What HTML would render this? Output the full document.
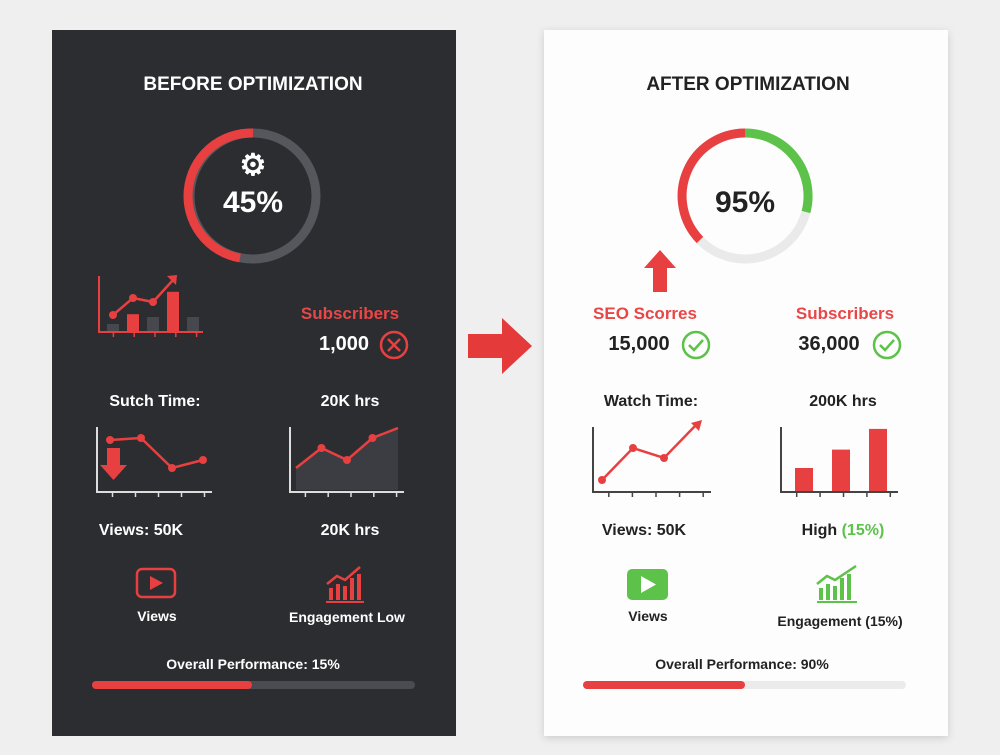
<!DOCTYPE html>
<html><head><meta charset="utf-8"><style>
body{margin:0;width:1000px;height:750px;background:#efefef;overflow:hidden;font-family:"Liberation Sans",sans-serif}
svg text{font-family:"Liberation Sans",sans-serif;font-weight:bold}
</style></head><body>
<svg id="s" width="1000" height="750" viewBox="0 0 1000 750">
<defs><filter id="sh" x="-10%" y="-10%" width="120%" height="120%"><feDropShadow dx="0" dy="2" stdDeviation="4" flood-opacity="0.15"/></filter></defs>
<rect x="52" y="30" width="404" height="706" fill="#2b2d31"/>
<rect x="544" y="30" width="404" height="706" fill="#fdfdfd" filter="url(#sh)"/>
<text x="253" y="90" font-size="19" fill="#fff" text-anchor="middle">BEFORE OPTIMIZATION</text>
<text x="748" y="90" font-size="19" fill="#222" text-anchor="middle">AFTER OPTIMIZATION</text>
<g>
<circle cx="253" cy="196" r="63" fill="none" stroke="#55575c" stroke-width="9"/>
<path d="M253 133 A63 63 0 0 0 240 258" fill="none" stroke="#e84040" stroke-width="9"/>
<text x="253" y="175" font-size="30" fill="#fff" text-anchor="middle">⚙</text>
<text x="253" y="212" font-size="30" fill="#fff" text-anchor="middle">45%</text>
</g>
<g>
<circle cx="745" cy="196" r="63" fill="none" stroke="#eaeaea" stroke-width="9"/>
<path d="M700 240 A63 63 0 0 1 745 133" fill="none" stroke="#e84040" stroke-width="9"/>
<path d="M745 133 A63 63 0 0 1 806 212" fill="none" stroke="#5cc24a" stroke-width="9"/>
<text x="745" y="212" font-size="30" fill="#222" text-anchor="middle">95%</text>
</g>
<path d="M660 250 L676 268 L667 268 L667 292 L653 292 L653 268 L644 268 Z" fill="#e84040"/>
<path d="M468 334 L502 334 L502 318 L532 346 L502 374 L502 358 L468 358 Z" fill="#e53a3a"/>
<g id="charts"></g>
<text x="350" y="319" font-size="17" fill="#e84747" text-anchor="middle">Subscribers</text>
<text x="344" y="350" font-size="20" fill="#fff" text-anchor="middle">1,000</text>
<g><circle cx="394" cy="345" r="13" fill="none" stroke="#e84040" stroke-width="2.5"/><path d="M388 339 L400 351 M400 339 L388 351" stroke="#e84040" stroke-width="2.5"/></g>
<text x="155" y="406" font-size="16" fill="#fff" text-anchor="middle">Sutch Time:</text>
<text x="350" y="406" font-size="16" fill="#fff" text-anchor="middle">20K hrs</text>
<text x="141" y="535" font-size="16" fill="#fff" text-anchor="middle">Views: 50K</text>
<text x="350" y="535" font-size="16" fill="#fff" text-anchor="middle">20K hrs</text>
<g><rect x="137" y="569" width="38" height="28" rx="5" fill="none" stroke="#e84040" stroke-width="2.5"/><path d="M150 576 L163 583 L150 590 Z" fill="#e84040"/></g>
<text x="157" y="621" font-size="14" fill="#fff" text-anchor="middle">Views</text>
<g fill="#e84040"><rect x="329" y="588" width="4" height="12"/><rect x="336" y="584" width="4" height="16"/><rect x="343" y="586" width="4" height="14"/><rect x="350" y="578" width="4" height="22"/><rect x="357" y="574" width="4" height="26"/><path d="M327 584 L337 576 L345 580 L360 567" stroke="#e84040" stroke-width="2.5" fill="none"/><rect x="326" y="601" width="38" height="2"/></g>
<text x="347" y="622" font-size="14" fill="#fff" text-anchor="middle">Engagement Low</text>
<text x="253" y="669" font-size="14" fill="#fff" text-anchor="middle">Overall Performance: 15%</text>
<rect x="92" y="681" width="323" height="8" rx="4" fill="#4a4c51"/>
<rect x="92" y="681" width="160" height="8" rx="4" fill="#e84040"/>
<text x="645" y="319" font-size="17" fill="#e84747" text-anchor="middle">SEO Scorres</text>
<text x="639" y="350" font-size="20" fill="#222" text-anchor="middle">15,000</text>
<g><circle cx="696" cy="345" r="13" fill="none" stroke="#5cc24a" stroke-width="2.5"/><path d="M689 345 L694 350 L703 340" fill="none" stroke="#5cc24a" stroke-width="2.5"/></g>
<text x="845" y="319" font-size="17" fill="#e84747" text-anchor="middle">Subscribers</text>
<text x="829" y="350" font-size="20" fill="#222" text-anchor="middle">36,000</text>
<g><circle cx="887" cy="345" r="13" fill="none" stroke="#5cc24a" stroke-width="2.5"/><path d="M880 345 L885 350 L894 340" fill="none" stroke="#5cc24a" stroke-width="2.5"/></g>
<text x="651" y="406" font-size="16" fill="#222" text-anchor="middle">Watch Time:</text>
<text x="843" y="406" font-size="16" fill="#222" text-anchor="middle">200K hrs</text>
<text x="644" y="535" font-size="16" fill="#222" text-anchor="middle">Views: 50K</text>
<text x="843" y="535" font-size="16" fill="#222" text-anchor="middle">High <tspan fill="#5cc24a">(15%)</tspan></text>
<g><rect x="627" y="569" width="41" height="31" rx="5" fill="#5cc24a"/><path d="M641 576 L656 584.5 L641 593 Z" fill="#fff"/></g>
<text x="648" y="621" font-size="14" fill="#222" text-anchor="middle">Views</text>
<g fill="#5cc24a"><rect x="819" y="588" width="4" height="12"/><rect x="826" y="584" width="4" height="16"/><rect x="833" y="586" width="4" height="14"/><rect x="840" y="578" width="4" height="22"/><rect x="847" y="574" width="4" height="26"/><path d="M817 584 L827 576 L835 580 L856 566" stroke="#5cc24a" stroke-width="2.5" fill="none"/><rect x="817" y="601" width="40" height="2"/></g>
<text x="840" y="626" font-size="14" fill="#222" text-anchor="middle">Engagement (15%)</text>
<text x="742" y="669" font-size="14" fill="#222" text-anchor="middle">Overall Performance: 90%</text>
<rect x="583" y="681" width="323" height="8" rx="4" fill="#ebebeb"/>
<rect x="583" y="681" width="162" height="8" rx="4" fill="#e84040"/>
</svg>
<script>
const NS='http://www.w3.org/2000/svg';
const g=document.getElementById('charts');
const beforeBars=[0.25,0.6,0.5,1.4,0.5];
const beforeBarColors=['#46484d','#e84040','#46484d','#e84040','#46484d'];
const beforeTrend=[0.85,1.7,1.5,2.6];
const beforeWatch=[2.6,2.7,1.2,1.6];
const beforeHours=[1.2,2.2,1.6,2.7,3.2];
const afterWatch=[0.6,2.2,1.7,3.3];
const afterBars=[1,1.8,2.7];
function el(t,a,name){const e=document.createElementNS(NS,t);for(const k in a)e.setAttribute(k,a[k]);g.appendChild(e);return e;}
function axes(x0,y0,x1,y1,c,ticks,name){el('path',{d:`M${x0} ${y0} L${x0} ${y1} L${x1} ${y1}`,stroke:c,'stroke-width':2,fill:'none'},name+'-axes');for(let i=0;i<ticks;i++){const tx=x0+(x1-x0)*(i+0.5)/ticks+4;el('line',{x1:tx,y1:y1,x2:tx,y2:y1+5,stroke:c,'stroke-width':1.5},name+'-tick');}}
function sx(x0,x1,n,i){return x0+(x1-x0)*(i+0.5)/n;}
function sy(y1,k,v){return y1-v*k;}
axes(99,276,203,332,'#e84040',5,'before-combo-chart');
beforeBars.forEach((v,i)=>{const cx=sx(103,203,5,i);const h=v*28;el('rect',{x:cx-6,y:332-h-1,width:12,height:h,fill:beforeBarColors[i]},'before-bar');});
{const pts=beforeTrend.map((v,i)=>[sx(103,203,5,i),sy(332,20,v)]);
el('polyline',{points:pts.map(p=>p.join(',')).join(' '),fill:'none',stroke:'#e84040','stroke-width':2.5},'before-trend-line');
pts.slice(0,3).forEach(p=>el('circle',{cx:p[0],cy:p[1],r:4,fill:'#e84040'},'before-trend-point'));
const l=pts[3];el('path',{d:`M${l[0]+4} ${l[1]-5} L${l[0]-6} ${l[1]-4} L${l[0]+3} ${l[1]+5} Z`,fill:'#e84040'},'before-trend-arrowhead');}
axes(97,427,212,492,'#ddd',5,'before-watch-chart');
{const pts=beforeWatch.map((v,i)=>[110+i*31,sy(492,20,v)]);
el('polyline',{points:pts.map(p=>p.join(',')).join(' '),fill:'none',stroke:'#e84040','stroke-width':2.5},'before-watch-line');
pts.forEach(p=>el('circle',{cx:p[0],cy:p[1],r:4,fill:'#e84040'},'before-watch-point'));}
el('path',{d:'M107 448 L120 448 L120 465 L127 465 L113.5 480 L100 465 L107 465 Z',fill:'#e84040'},'down-arrow');
axes(290,427,404,492,'#ddd',5,'before-hours-chart');
{const pts=beforeHours.map((v,i)=>[296+i*25.5,sy(492,20,v)]);
el('polygon',{points:`${pts[0][0]},490 `+pts.map(p=>p.join(',')).join(' ')+` ${pts[4][0]},490`,fill:'#3b3d42'},'before-hours-area');
el('polyline',{points:pts.map(p=>p.join(',')).join(' '),fill:'none',stroke:'#e84040','stroke-width':2.5},'before-hours-line');
pts.slice(1,4).forEach(p=>el('circle',{cx:p[0],cy:p[1],r:4,fill:'#e84040'},'before-hours-point'));}
axes(593,427,711,492,'#444',5,'after-watch-chart');
{const pts=afterWatch.map((v,i)=>[602+i*31,sy(492,20,v)]);
el('polyline',{points:pts.map(p=>p.join(',')).join(' '),fill:'none',stroke:'#e84040','stroke-width':2.5},'after-watch-line');
pts.slice(0,3).forEach(p=>el('circle',{cx:p[0],cy:p[1],r:4,fill:'#e84040'},'after-watch-point'));
const l=pts[3];el('path',{d:`M${l[0]+7} ${l[1]-6} L${l[0]-4} ${l[1]-3} L${l[0]+4} ${l[1]+5} Z`,fill:'#e84040'},'after-watch-arrowhead');}
axes(781,427,898,492,'#444',5,'after-bars-chart');
afterBars.forEach((v,i)=>{const cx=804+i*37;const h=v*23;el('rect',{x:cx-9,y:491-h,width:18,height:h,fill:'#e84040'},'after-bar');});
</script>
</body></html>
